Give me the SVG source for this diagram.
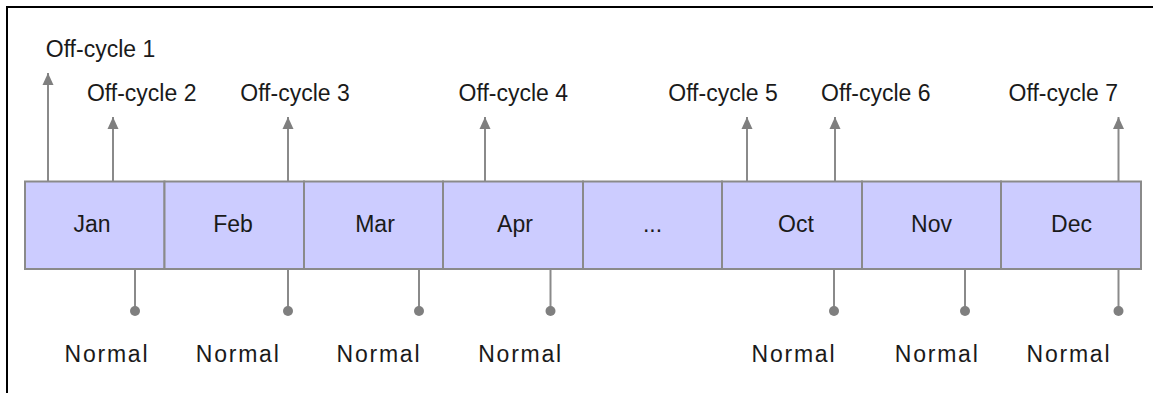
<svg xmlns="http://www.w3.org/2000/svg" width="1153" height="393" viewBox="0 0 1153 393">
<defs>
<style>
.lbl{font-family:"Liberation Sans",Arial,sans-serif;font-size:23px;fill:#1a1a1a;text-anchor:middle}
.box{fill:#ccccff;stroke:#8a8a8a;stroke-width:2}
.ln{stroke:#8a8a8a;stroke-width:2;fill:none}
.dot{fill:#7f7f7f}
</style>
<marker id="ah" viewBox="0 0 12 12" refX="12" refY="6" markerWidth="12" markerHeight="12" markerUnits="userSpaceOnUse" orient="auto">
<path d="M0,0.5 L12,6 L0,11.5 Z" fill="#7f7f7f"/>
</marker>
</defs>
<rect width="1153" height="393" fill="#ffffff"/>
<path d="M7,393 V7 H1153" fill="none" stroke="#000" stroke-width="2"/>
<g id="months">
<g id="jan"><rect class="box" x="25" y="181.5" width="139.5" height="87.5"/><text class="lbl" x="92" y="232">Jan</text></g>
<g id="feb"><rect class="box" x="164.5" y="181.5" width="139.5" height="87.5"/><text class="lbl" x="233" y="232">Feb</text></g>
<g id="mar"><rect class="box" x="304" y="181.5" width="139" height="87.5"/><text class="lbl" x="375" y="232">Mar</text></g>
<g id="apr"><rect class="box" x="443" y="181.5" width="140" height="87.5"/><text class="lbl" x="515" y="232">Apr</text></g>
<g id="dots"><rect class="box" x="583" y="181.5" width="139" height="87.5"/><text class="lbl" x="652.5" y="232">...</text></g>
<g id="oct"><rect class="box" x="722" y="181.5" width="140" height="87.5"/><text class="lbl" x="796" y="232">Oct</text></g>
<g id="nov"><rect class="box" x="862" y="181.5" width="139" height="87.5"/><text class="lbl" x="931.5" y="232">Nov</text></g>
<g id="dec"><rect class="box" x="1001" y="181.5" width="140" height="87.5"/><text class="lbl" x="1071.5" y="232">Dec</text></g>
</g>
<g id="connectors">
<line class="ln" x1="48" y1="181" x2="48" y2="73" marker-end="url(#ah)"/>
<line class="ln" x1="113" y1="181" x2="113" y2="117" marker-end="url(#ah)"/>
<line class="ln" x1="288" y1="181" x2="288" y2="117" marker-end="url(#ah)"/>
<line class="ln" x1="485" y1="181" x2="485" y2="117" marker-end="url(#ah)"/>
<line class="ln" x1="747" y1="181" x2="747" y2="117" marker-end="url(#ah)"/>
<line class="ln" x1="835" y1="181" x2="835" y2="117" marker-end="url(#ah)"/>
<line class="ln" x1="1118.5" y1="181" x2="1118.5" y2="117" marker-end="url(#ah)"/>
<line class="ln" x1="135" y1="270" x2="135" y2="311"/><circle class="dot" cx="135" cy="311" r="5"/>
<line class="ln" x1="288" y1="270" x2="288" y2="311"/><circle class="dot" cx="288" cy="311" r="5"/>
<line class="ln" x1="419" y1="270" x2="419" y2="311"/><circle class="dot" cx="419" cy="311" r="5"/>
<line class="ln" x1="550.5" y1="270" x2="550.5" y2="311"/><circle class="dot" cx="550.5" cy="311" r="5"/>
<line class="ln" x1="834" y1="270" x2="834" y2="311"/><circle class="dot" cx="834" cy="311" r="5"/>
<line class="ln" x1="965" y1="270" x2="965" y2="311"/><circle class="dot" cx="965" cy="311" r="5"/>
<line class="ln" x1="1118.5" y1="270" x2="1118.5" y2="311"/><circle class="dot" cx="1118.5" cy="311" r="5"/>
</g>
<g id="offcycle-labels">
<text class="lbl" x="100.5" y="57">Off-cycle 1</text>
<text class="lbl" x="141.7" y="101">Off-cycle 2</text>
<text class="lbl" x="295" y="101">Off-cycle 3</text>
<text class="lbl" x="513.3" y="101">Off-cycle 4</text>
<text class="lbl" x="723" y="101">Off-cycle 5</text>
<text class="lbl" x="875.8" y="101">Off-cycle 6</text>
<text class="lbl" x="1063.3" y="101">Off-cycle 7</text>
</g>
<g id="normal-labels">
<text class="lbl" x="106" y="362" textLength="83" lengthAdjust="spacing">Normal</text>
<text class="lbl" x="237.3" y="362" textLength="83" lengthAdjust="spacing">Normal</text>
<text class="lbl" x="378" y="362" textLength="83" lengthAdjust="spacing">Normal</text>
<text class="lbl" x="519.7" y="362" textLength="83" lengthAdjust="spacing">Normal</text>
<text class="lbl" x="793" y="362" textLength="83" lengthAdjust="spacing">Normal</text>
<text class="lbl" x="936.3" y="362" textLength="83" lengthAdjust="spacing">Normal</text>
<text class="lbl" x="1068" y="362" textLength="83" lengthAdjust="spacing">Normal</text>
</g>
</svg>
